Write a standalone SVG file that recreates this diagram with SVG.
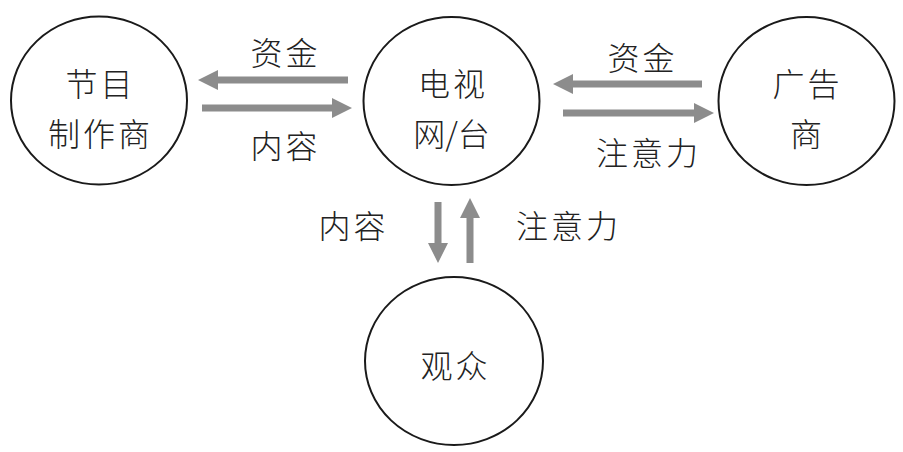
<svg xmlns="http://www.w3.org/2000/svg" width="903" height="452" viewBox="0 0 903 452">
<style>
.node{fill:#fff;stroke:#1a1a1a;stroke-width:2}
text{font-family:"Noto Sans CJK SC","Noto Sans",sans-serif;font-size:32px;letter-spacing:3px;fill:#222;text-anchor:middle;font-weight:300}
.tight{letter-spacing:0}
.arr{fill:#8c8c8c;stroke:none}
</style>
<rect width="903" height="452" fill="#fff"/>
<g id="connectors">
<polygon class="arr" points="348,76.5 218,76.5 218,70 198,80 218,90 218,83.5 348,83.5"/>
<polygon class="arr" points="202,104.5 332,104.5 332,98 352,108 332,118 332,111.5 202,111.5"/>
<polygon class="arr" points="702,80.5 573,80.5 573,74 553,84 573,94 573,87.5 702,87.5"/>
<polygon class="arr" points="563,109.5 694,109.5 694,103 714,113 694,123 694,116.5 563,116.5"/>
<polygon class="arr" points="434.5,202 434.5,243 428,243 438,263 448,243 441.5,243 441.5,202"/>
<polygon class="arr" points="466.5,263 466.5,218 460,218 470,198 480,218 473.5,218 473.5,263"/>
<text x="285.5" y="65">资金</text>
<text x="285.5" y="158">内容</text>
<text x="642.5" y="70">资金</text>
<text x="648.5" y="165">注意力</text>
<text x="353.5" y="238">内容</text>
<text x="568.5" y="238">注意力</text>
</g>
<g id="producer">
<ellipse class="node" cx="99" cy="100.5" rx="88" ry="84"/>
<text x="100.5" y="96">节目</text>
<text x="100.5" y="146">制作商</text>
</g>
<g id="tv">
<ellipse class="node" cx="451.5" cy="101" rx="88" ry="84"/>
<text x="453" y="96">电视</text>
<text class="tight" x="451.5" y="146">网/台</text>
</g>
<g id="advertiser">
<ellipse class="node" cx="806.5" cy="101" rx="88" ry="84"/>
<text x="807.5" y="96">广告</text>
<text x="807.5" y="146">商</text>
</g>
<g id="audience">
<ellipse class="node" cx="454" cy="361" rx="89" ry="84"/>
<text x="455.5" y="378">观众</text>
</g>
</svg>
